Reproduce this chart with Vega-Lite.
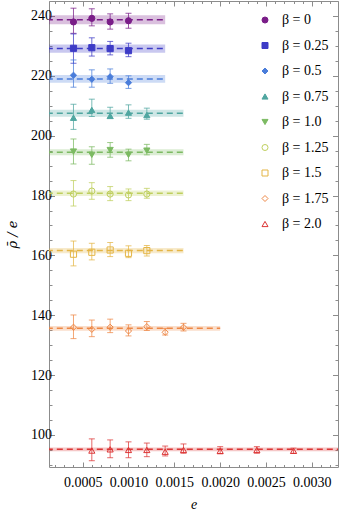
{
  "$schema": "https://vega.github.io/schema/vega-lite/v6.json",
  "width": 289,
  "height": 466,
  "autosize": "none",
  "padding": {"left": 49, "top": 1, "right": 2, "bottom": 45},
  "background": "white",
  "config": {
    "view": {"stroke": "#8c8c8c", "strokeWidth": 1},
    "font": "Liberation Serif",
    "axis": {"domain": false, "grid": false, "tickColor": "#8c8c8c", "labelFont": "Liberation Serif", "labelFontSize": 14, "labelColor": "black", "titleFont": "Liberation Serif", "titleFontWeight": "normal", "titleFontStyle": "italic", "titleFontSize": 14, "titleColor": "black"},
    "legend": {"orient": "none", "legendX": 209, "legendY": 12, "labelFontSize": 14, "labelFont": "Liberation Serif", "labelColor": "black", "labelOffset": 10, "rowPadding": 11.5, "symbolSize": 36, "symbolStrokeWidth": 1, "padding": 0}
  },
  "datasets": {
    "lines": [
      {"b": "β = 0", "v": 238.7, "lo": 237.2, "hi": 240.2, "xs": 0, "xe": 0.0014},
      {"b": "β = 0.25", "v": 229.1, "lo": 227.7, "hi": 230.5, "xs": 0, "xe": 0.0014},
      {"b": "β = 0.5", "v": 218.95, "lo": 217.65, "hi": 220.25, "xs": 0, "xe": 0.0014},
      {"b": "β = 0.75", "v": 207.5, "lo": 206.3, "hi": 208.7, "xs": 0, "xe": 0.0016},
      {"b": "β = 1.0", "v": 194.45, "lo": 193.45, "hi": 195.45, "xs": 0, "xe": 0.0016},
      {"b": "β = 1.25", "v": 180.75, "lo": 179.85, "hi": 181.65, "xs": 0, "xe": 0.0016},
      {"b": "β = 1.5", "v": 161.6, "lo": 160.7, "hi": 162.5, "xs": 0, "xe": 0.0016},
      {"b": "β = 1.75", "v": 135.65, "lo": 134.85, "hi": 136.45, "xs": 0, "xe": 0.002},
      {"b": "β = 2.0", "v": 95.2, "lo": 94.6, "hi": 95.8, "xs": 0, "xe": 0.004}
    ],
    "pts": [
      {"b": "β = 0", "x": 0.0004, "y": 238.0, "lo": 234.2, "hi": 242.6},
      {"b": "β = 0", "x": 0.0006, "y": 239.2, "lo": 236.7, "hi": 242.4},
      {"b": "β = 0", "x": 0.0008, "y": 238.0, "lo": 235.6, "hi": 240.7},
      {"b": "β = 0", "x": 0.0010, "y": 238.4, "lo": 235.9, "hi": 240.9},
      {"b": "β = 0.25", "x": 0.0004, "y": 229.2, "lo": 224.2, "hi": 234.0},
      {"b": "β = 0.25", "x": 0.0006, "y": 229.4, "lo": 226.6, "hi": 232.7},
      {"b": "β = 0.25", "x": 0.0008, "y": 229.1, "lo": 227.0, "hi": 231.5},
      {"b": "β = 0.25", "x": 0.0010, "y": 228.4, "lo": 226.4, "hi": 230.9},
      {"b": "β = 0.5", "x": 0.0004, "y": 220.2, "lo": 216.2, "hi": 225.3},
      {"b": "β = 0.5", "x": 0.0006, "y": 218.85, "lo": 216.2, "hi": 222.0},
      {"b": "β = 0.5", "x": 0.0008, "y": 219.7, "lo": 217.5, "hi": 222.3},
      {"b": "β = 0.5", "x": 0.0010, "y": 217.7, "lo": 215.8, "hi": 220.0},
      {"b": "β = 0.75", "x": 0.0004, "y": 206.0, "lo": 202.1, "hi": 210.5},
      {"b": "β = 0.75", "x": 0.0006, "y": 208.6, "lo": 206.4, "hi": 212.2},
      {"b": "β = 0.75", "x": 0.0008, "y": 206.6, "lo": 205.8, "hi": 209.5},
      {"b": "β = 0.75", "x": 0.0010, "y": 207.7, "lo": 205.8, "hi": 210.3},
      {"b": "β = 0.75", "x": 0.0012, "y": 206.9, "lo": 205.5, "hi": 209.2},
      {"b": "β = 1.0", "x": 0.0004, "y": 194.7, "lo": 190.55, "hi": 198.9},
      {"b": "β = 1.0", "x": 0.0006, "y": 193.6, "lo": 190.45, "hi": 196.3},
      {"b": "β = 1.0", "x": 0.0008, "y": 195.2, "lo": 192.8, "hi": 197.7},
      {"b": "β = 1.0", "x": 0.0010, "y": 193.6, "lo": 191.6, "hi": 195.5},
      {"b": "β = 1.0", "x": 0.0012, "y": 195.0, "lo": 193.6, "hi": 197.1},
      {"b": "β = 1.25", "x": 0.0004, "y": 180.5, "lo": 176.5, "hi": 185.0},
      {"b": "β = 1.25", "x": 0.0006, "y": 181.5, "lo": 178.75, "hi": 184.3},
      {"b": "β = 1.25", "x": 0.0008, "y": 180.5, "lo": 178.3, "hi": 183.0},
      {"b": "β = 1.25", "x": 0.0010, "y": 180.2, "lo": 178.3, "hi": 182.2},
      {"b": "β = 1.25", "x": 0.0012, "y": 180.5, "lo": 179.1, "hi": 182.4},
      {"b": "β = 1.5", "x": 0.0004, "y": 160.4, "lo": 156.5, "hi": 164.8},
      {"b": "β = 1.5", "x": 0.0006, "y": 161.05, "lo": 158.5, "hi": 164.05},
      {"b": "β = 1.5", "x": 0.0008, "y": 161.8, "lo": 159.6, "hi": 164.3},
      {"b": "β = 1.5", "x": 0.0010, "y": 160.7, "lo": 159.25, "hi": 163.2},
      {"b": "β = 1.5", "x": 0.0012, "y": 161.6, "lo": 159.8, "hi": 163.3},
      {"b": "β = 1.75", "x": 0.0004, "y": 136.0, "lo": 132.2, "hi": 140.1},
      {"b": "β = 1.75", "x": 0.0006, "y": 135.3, "lo": 132.85, "hi": 138.4},
      {"b": "β = 1.75", "x": 0.0008, "y": 136.0, "lo": 134.2, "hi": 138.7},
      {"b": "β = 1.75", "x": 0.0010, "y": 134.75, "lo": 133.1, "hi": 136.8},
      {"b": "β = 1.75", "x": 0.0012, "y": 136.2, "lo": 134.9, "hi": 137.9},
      {"b": "β = 1.75", "x": 0.0014, "y": 134.3, "lo": 133.4, "hi": 135.6},
      {"b": "β = 1.75", "x": 0.0016, "y": 136.0, "lo": 134.75, "hi": 137.3},
      {"b": "β = 2.0", "x": 0.0006, "y": 94.8, "lo": 91.4, "hi": 98.7},
      {"b": "β = 2.0", "x": 0.0008, "y": 95.2, "lo": 92.4, "hi": 98.35},
      {"b": "β = 2.0", "x": 0.0010, "y": 95.0, "lo": 92.4, "hi": 97.7},
      {"b": "β = 2.0", "x": 0.0012, "y": 95.0, "lo": 92.75, "hi": 97.3},
      {"b": "β = 2.0", "x": 0.0014, "y": 94.4, "lo": 93.0, "hi": 96.3},
      {"b": "β = 2.0", "x": 0.0016, "y": 95.0, "lo": 93.9, "hi": 97.0},
      {"b": "β = 2.0", "x": 0.0020, "y": 94.7, "lo": 93.7, "hi": 96.1},
      {"b": "β = 2.0", "x": 0.0024, "y": 95.0, "lo": 93.9, "hi": 96.1},
      {"b": "β = 2.0", "x": 0.0028, "y": 94.7, "lo": 93.9, "hi": 95.6}
    ]
  },
  "layer": [
    {
      "data": {"name": "lines"},
      "mark": {"type": "rect", "clip": true, "opacity": 0.28},
      "encoding": {
        "x": {"field": "xs", "type": "quantitative", "scale": {"domain": [0.000133, 0.003285], "nice": false, "zero": false}, "axis": null},
        "x2": {"field": "xe"},
        "y": {"field": "lo", "type": "quantitative", "scale": {"domain": [89.3, 245], "nice": false, "zero": false},
          "axis": {"orient": "left", "values": [100, 120, 140, 160, 180, 200, 220, 240], "tickSize": -5.5, "labelPadding": 3, "title": "ρ̄ / e", "titleFont": "DejaVu Serif", "titleFontSize": 13, "titlePadding": 11}},
        "y2": {"field": "hi"},
        "color": {"field": "b", "type": "nominal", "legend": null,
          "scale": {"range": ["#7a1d88", "#3d3bc6", "#4a7dda", "#4fa6a0", "#7cba62", "#bfcf5e", "#e4b545", "#ee8745", "#dc3535"]}}
      }
    },
    {
      "data": {"name": "lines"},
      "mark": {"type": "rule", "clip": true, "strokeDash": [6, 4], "strokeWidth": 1.5},
      "encoding": {
        "x": {"field": "xs", "type": "quantitative", "axis": null},
        "x2": {"field": "xe"},
        "y": {"field": "v", "type": "quantitative",
          "axis": {"orient": "left", "values": [90, 95, 105, 110, 115, 125, 130, 135, 145, 150, 155, 165, 170, 175, 185, 190, 195, 205, 210, 215, 225, 230, 235, 245], "tickSize": -3, "labels": false, "title": null}},
        "color": {"field": "b", "type": "nominal", "legend": null}
      }
    },
    {
      "data": {"name": "pts"},
      "mark": {"type": "rule", "strokeWidth": 1, "opacity": 0.75},
      "encoding": {
        "x": {"field": "x", "type": "quantitative",
          "axis": {"orient": "bottom", "values": [0.0005, 0.001, 0.0015, 0.002, 0.0025, 0.003], "format": ".4f", "tickSize": -5, "labelPadding": 13, "title": "e", "titlePadding": 8}},
        "y": {"field": "lo", "type": "quantitative",
          "axis": {"orient": "right", "values": [100, 120, 140, 160, 180, 200, 220, 240], "tickSize": -5.5, "labels": false, "title": null}},
        "y2": {"field": "hi"},
        "color": {"field": "b", "type": "nominal", "legend": null}
      }
    },
    {
      "data": {"name": "pts"},
      "mark": {"type": "tick", "orient": "horizontal", "size": 6, "thickness": 1, "opacity": 0.75},
      "encoding": {
        "x": {"field": "x", "type": "quantitative",
          "axis": {"orient": "bottom", "values": [0.0002, 0.0003, 0.0004, 0.0006, 0.0007, 0.0008, 0.0009, 0.0011, 0.0012, 0.0013, 0.0014, 0.0016, 0.0017, 0.0018, 0.0019, 0.0021, 0.0022, 0.0023, 0.0024, 0.0026, 0.0027, 0.0028, 0.0029, 0.0031, 0.0032], "tickSize": -2.5, "labels": false, "title": null}},
        "y": {"field": "lo", "type": "quantitative",
          "axis": {"orient": "right", "values": [90, 95, 105, 110, 115, 125, 130, 135, 145, 150, 155, 165, 170, 175, 185, 190, 195, 205, 210, 215, 225, 230, 235, 245], "tickSize": -3, "labels": false, "title": null}},
        "color": {"field": "b", "type": "nominal", "legend": null}
      }
    },
    {
      "data": {"name": "pts"},
      "mark": {"type": "tick", "orient": "horizontal", "size": 6, "thickness": 1, "opacity": 0.75},
      "encoding": {
        "x": {"field": "x", "type": "quantitative",
          "axis": {"orient": "top", "values": [0.0005, 0.001, 0.0015, 0.002, 0.0025, 0.003], "tickSize": -5, "labels": false, "title": null}},
        "y": {"field": "hi", "type": "quantitative", "axis": null},
        "color": {"field": "b", "type": "nominal", "legend": null}
      }
    },
    {
      "data": {"name": "pts"},
      "mark": {"type": "point", "opacity": 1, "strokeWidth": 1, "size": 38},
      "encoding": {
        "x": {"field": "x", "type": "quantitative",
          "axis": {"orient": "top", "values": [0.0002, 0.0003, 0.0004, 0.0006, 0.0007, 0.0008, 0.0009, 0.0011, 0.0012, 0.0013, 0.0014, 0.0016, 0.0017, 0.0018, 0.0019, 0.0021, 0.0022, 0.0023, 0.0024, 0.0026, 0.0027, 0.0028, 0.0029, 0.0031, 0.0032], "tickSize": -2.5, "labels": false, "title": null}},
        "y": {"field": "y", "type": "quantitative", "axis": null},
        "fill": {"field": "b", "type": "nominal",
          "scale": {"domain": ["β = 0", "β = 0.25", "β = 0.5", "β = 0.75", "β = 1.0", "β = 1.25", "β = 1.5", "β = 1.75", "β = 2.0"],
            "range": ["#7a1d88", "#3d3bc6", "#4a7dda", "#4fa6a0", "#7cba62", "transparent", "transparent", "transparent", "transparent"]},
          "legend": {"orient": "none", "legendX": 209, "legendY": 12, "title": null}},
        "stroke": {"field": "b", "type": "nominal",
          "scale": {"domain": ["β = 0", "β = 0.25", "β = 0.5", "β = 0.75", "β = 1.0", "β = 1.25", "β = 1.5", "β = 1.75", "β = 2.0"],
            "range": ["#7a1d88", "#3d3bc6", "#4a7dda", "#4fa6a0", "#7cba62", "#bfcf5e", "#e4b545", "#ee8745", "#dc3535"]},
          "legend": {"orient": "none", "legendX": 209, "legendY": 12, "title": null}},
        "shape": {"field": "b", "type": "nominal",
          "scale": {"domain": ["β = 0", "β = 0.25", "β = 0.5", "β = 0.75", "β = 1.0", "β = 1.25", "β = 1.5", "β = 1.75", "β = 2.0"],
            "range": ["circle", "square", "diamond", "triangle-up", "triangle-down", "circle", "square", "diamond", "triangle-up"]},
          "legend": {"orient": "none", "legendX": 209, "legendY": 12, "title": null}}
      }
    }
  ],
  "resolve": {"axis": {"x": "independent", "y": "independent"}}
}
